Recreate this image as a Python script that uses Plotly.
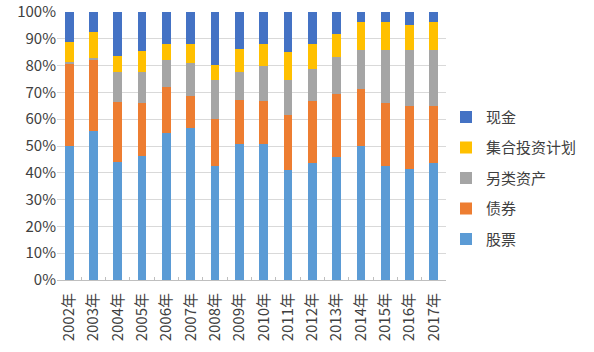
import plotly.graph_objects as go

years = ["2002年","2003年","2004年","2005年","2006年","2007年","2008年","2009年",
         "2010年","2011年","2012年","2013年","2014年","2015年","2016年","2017年"]
stocks = [50.0, 55.7, 44.1, 46.2, 54.7, 56.8, 42.6, 50.7, 50.7, 41.2, 43.8, 45.9, 50.1, 42.6, 41.6, 43.8]
bonds  = [30.9, 26.4, 22.4, 20.0, 17.2, 12.0, 17.3, 16.5, 16.2, 20.3, 23.1, 23.4, 21.1, 23.6, 23.3, 21.1]
alts   = [0.5, 0.8, 11.3, 11.6, 10.2, 12.1, 14.8, 10.6, 13.1, 13.2, 11.9, 13.8, 14.7, 19.7, 21.0, 21.0]
cis    = [7.4, 9.6, 5.8, 7.7, 5.9, 7.1, 5.6, 8.3, 8.0, 10.2, 9.2, 8.8, 10.2, 10.2, 9.4, 10.2]
cash   = [11.2, 7.5, 16.4, 14.5, 12.0, 12.0, 19.7, 13.9, 12.0, 15.1, 12.0, 8.1, 3.9, 3.9, 4.7, 3.9]

series = [
    ("股票", stocks, "#5B9BD5"),
    ("债券", bonds, "#ED7D31"),
    ("另类资产", alts, "#A5A5A5"),
    ("集合投资计划", cis, "#FFC000"),
    ("现金", cash, "#4472C4"),
]

fig = go.Figure()
n = len(series)
for i, (name, vals, color) in enumerate(series):
    fig.add_trace(go.Bar(x=years, y=vals, name=name, marker_color=color,
                         marker_line_width=0, legendgroup=name,
                         legendrank=1000 - i))

font_family = "Noto Sans CJK SC, Noto Sans, sans-serif"
fig.update_layout(
    barmode="stack",
    bargap=0.64,
    width=594, height=352,
    margin=dict(l=57, r=146, t=12, b=72),
    paper_bgcolor="white", plot_bgcolor="white",
    font=dict(family=font_family, size=14, color="#595959"),
    legend=dict(traceorder="grouped", x=1.0, xanchor="left", y=0.38, yanchor="middle",
                tracegroupgap=8, font=dict(size=15, color="#404040")),
    xaxis=dict(tickangle=-90, showgrid=False, showline=True, linecolor="#BFBFBF",
               ticks="inside", ticklen=3, tickcolor="#BFBFBF", tickson="boundaries",
               ticklabelstandoff=6,
               automargin=False, tickfont=dict(size=15, color="#404040")),
    yaxis=dict(range=[0, 100], dtick=10, ticksuffix="%", showgrid=True, gridcolor="#D9D9D9",
               zeroline=False, showline=False, automargin=False,
               tickfont=dict(size=15, color="#404040")),
)

fig.write_html("out.html")
